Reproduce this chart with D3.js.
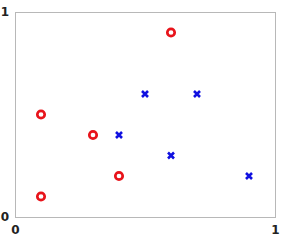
<!DOCTYPE html>
<html>
<head>
<meta charset="utf-8">
<script src="https://cdn.jsdelivr.net/npm/d3@7"></script>
<style>
  body { margin: 0; background: #fff; }
</style>
</head>
<body>
<div id="chart"></div>
<script>
// class A (red circles) and class B (blue crosses)
var circleX = [0.1, 0.1, 0.3, 0.4, 0.6];
var circleY = [0.1, 0.5, 0.4, 0.2, 0.9];
var crossX = [0.4, 0.5, 0.7, 0.6, 0.9];
var crossY = [0.4, 0.6, 0.6, 0.3, 0.2];
var xTicks = [0, 1];
var yTicks = [0, 1];

var width = 282, height = 246;
var margin = { top: 12, right: 7, bottom: 29, left: 15 };
var innerW = width - margin.left - margin.right;
var innerH = height - margin.top - margin.bottom;

var svg = d3.select("#chart").append("svg")
    .attr("width", width)
    .attr("height", height);

var g = svg.append("g")
    .attr("transform", "translate(" + margin.left + "," + margin.top + ")");

var xScale = d3.scaleLinear().domain([0, 1]).range([0, innerW]);
var yScale = d3.scaleLinear().domain([0, 1]).range([innerH, 0]);

// frame
g.append("rect")
    .attr("x", 0.5).attr("y", 0.5)
    .attr("width", innerW).attr("height", innerH)
    .attr("fill", "none")
    .attr("stroke", "#b8b8b8")
    .attr("stroke-width", 1);

// axes, labels only
var xAxis = g.append("g")
    .attr("transform", "translate(0," + innerH + ")")
    .call(d3.axisBottom(xScale).tickValues(xTicks).tickSize(0).tickPadding(8).tickFormat(d3.format("d")));
var yAxis = g.append("g")
    .call(d3.axisLeft(yScale).tickValues(yTicks).tickSize(0).tickPadding(6).tickFormat(d3.format("d")));

[xAxis, yAxis].forEach(function (a) {
  a.select(".domain").remove();
  a.selectAll("text")
    .attr("font-family", "'DejaVu Sans'")
    .attr("font-size", "12px")
    .attr("font-weight", "bold")
    .attr("fill", "#222");
});

var circles = circleX.map(function (x, i) { return [x, circleY[i]]; });
var crosses = crossX.map(function (x, i) { return [x, crossY[i]]; });

g.append("g").selectAll("circle")
    .data(circles)
    .enter()
    .append("circle")
    .attr("cx", function (d) { return xScale(d[0]); })
    .attr("cy", function (d) { return yScale(d[1]); })
    .attr("r", 3.7)
    .attr("fill", "none")
    .attr("stroke", "#e8141b")
    .attr("stroke-width", 2.7);

var s = 3;
g.append("g").selectAll("path")
    .data(crosses)
    .enter()
    .append("path")
    .attr("d", function (d) {
      var cx = xScale(d[0]), cy = yScale(d[1]);
      return "M" + (cx - s) + "," + (cy - s) + "L" + (cx + s) + "," + (cy + s) +
             "M" + (cx - s) + "," + (cy + s) + "L" + (cx + s) + "," + (cy - s);
    })
    .attr("stroke", "#1010e0")
    .attr("stroke-width", 2.6)
    .attr("fill", "none");
</script>
</body>
</html>
